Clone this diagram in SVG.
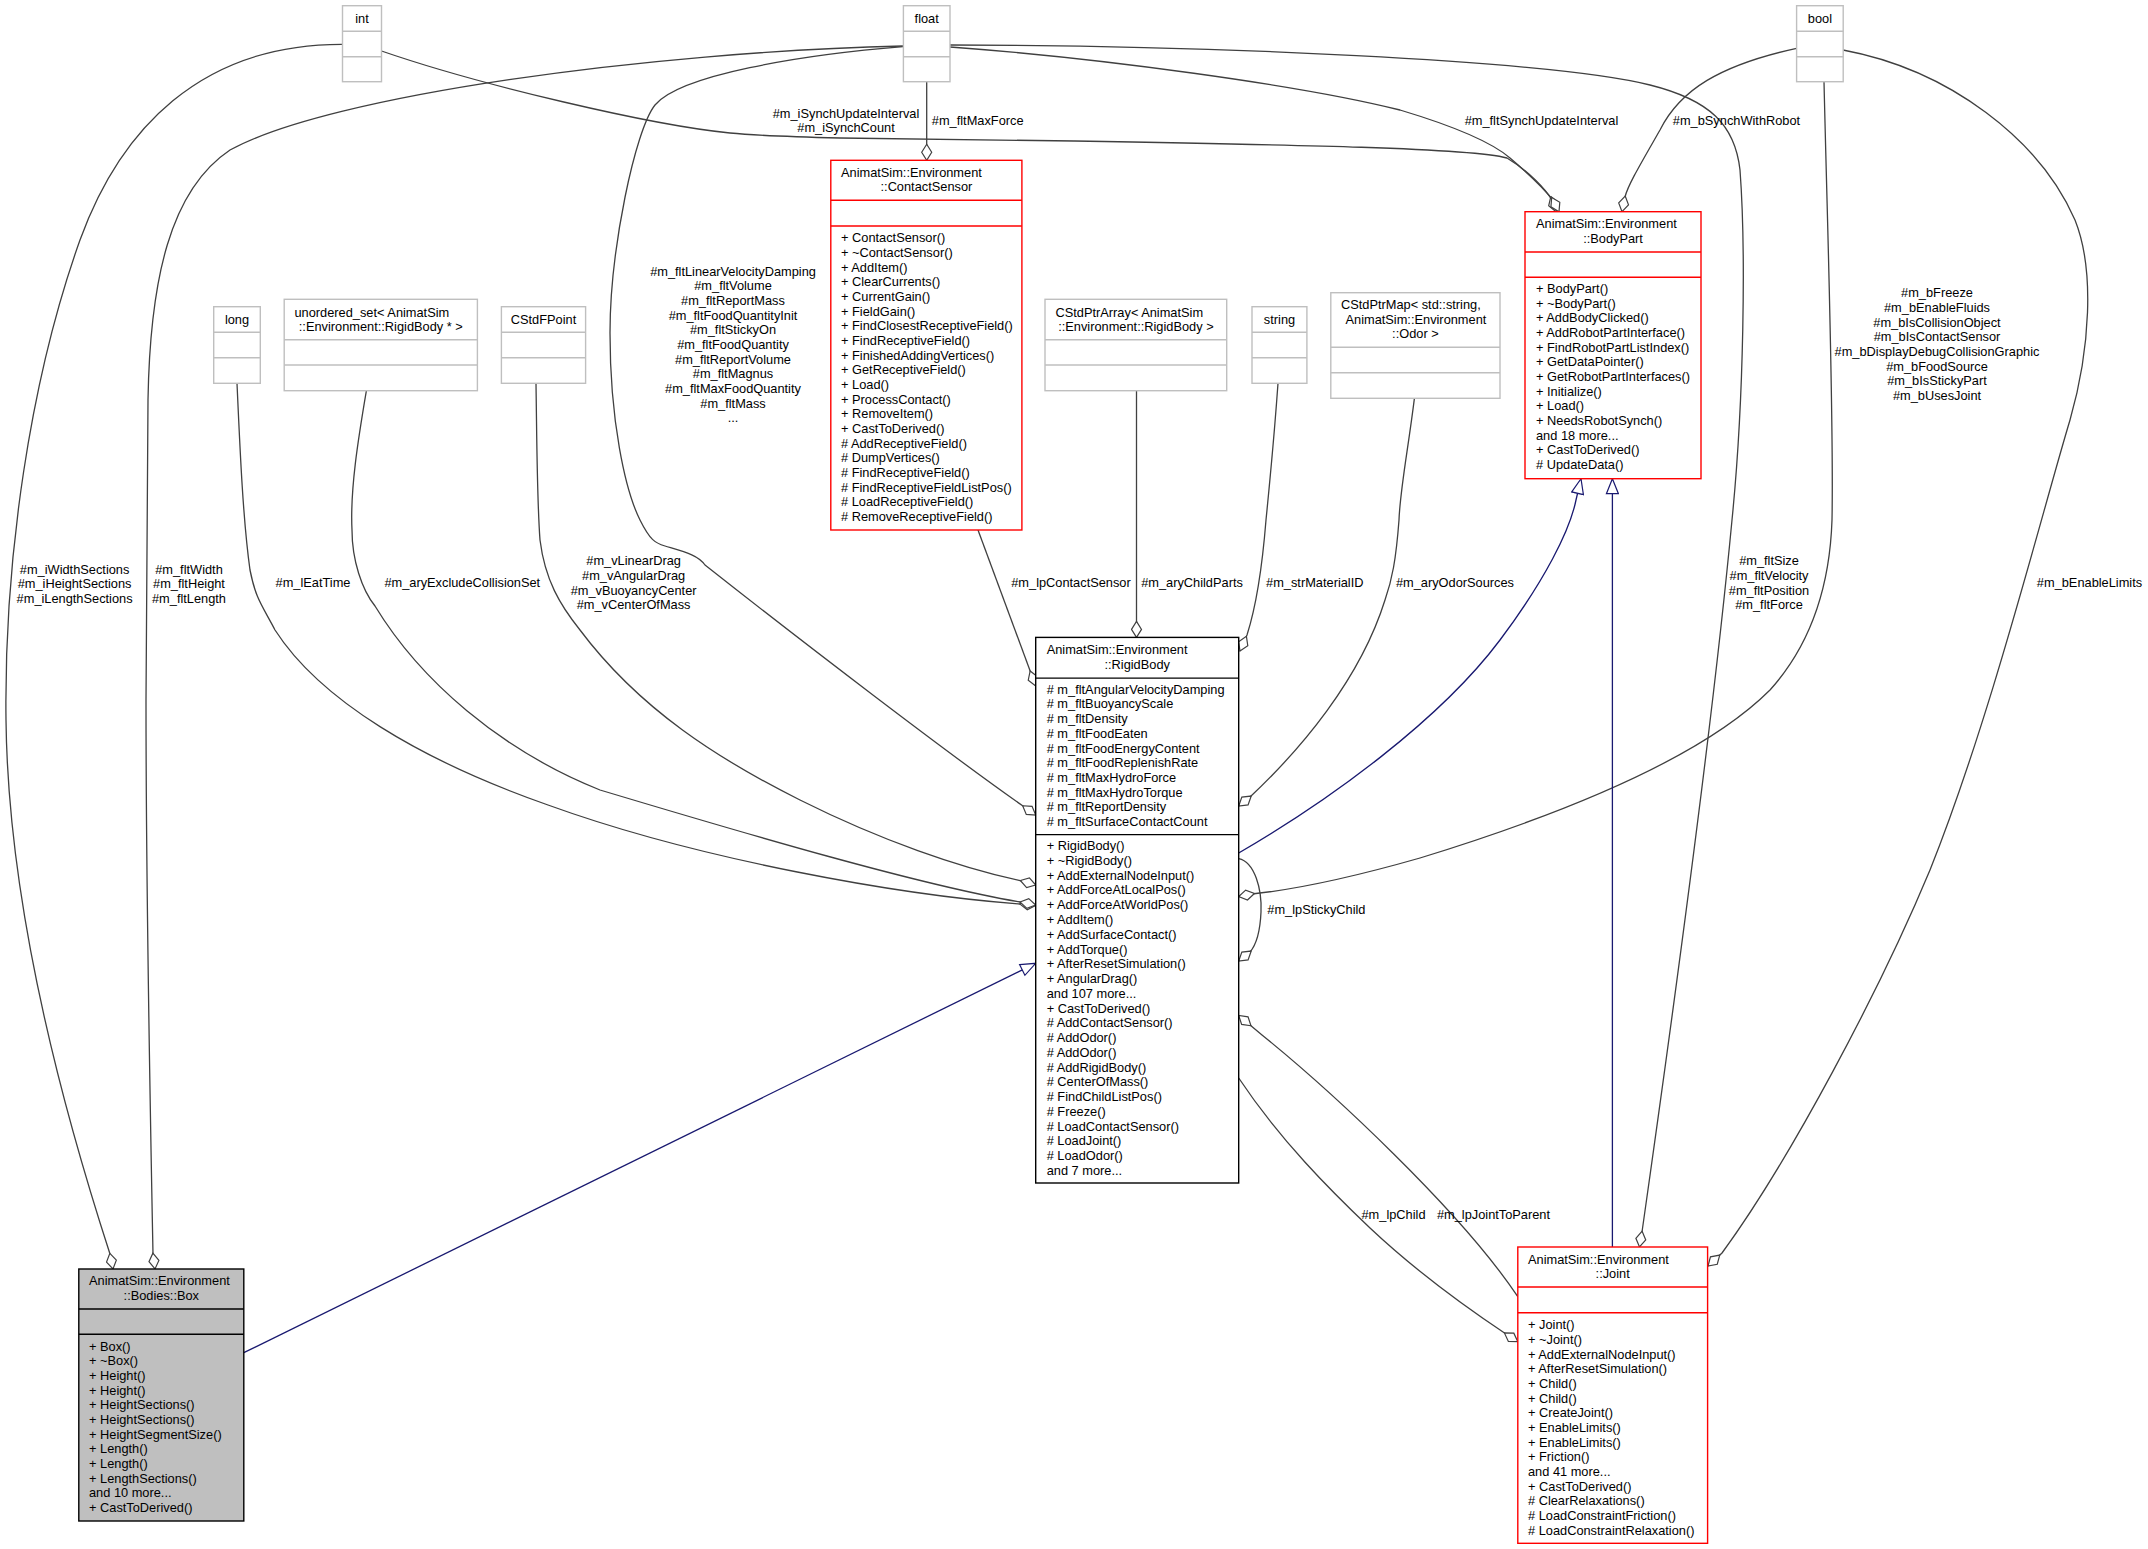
<svg xmlns="http://www.w3.org/2000/svg" width="2148" height="1549" viewBox="0 0 2148 1549">
<style>
text{font-family:"Liberation Sans",Arial,Helvetica,sans-serif;font-size:12.8px;fill:#000}
.c{text-anchor:middle}
.g rect,.g line{stroke:#bfbfbf;stroke-width:1.4;fill:#fff}
.r rect,.r line{stroke:#ff0000;stroke-width:1.4;fill:#fff}
.k rect,.k line{stroke:#000;stroke-width:1.4;fill:#fff}
.k rect.f{fill:#bfbfbf}
.e{fill:none;stroke:#404040;stroke-width:1.3;marker-end:url(#dia)}
.i{fill:none;stroke:#191970;stroke-width:1.3;marker-end:url(#tri)}
</style>
<defs>
<marker id="dia" markerUnits="userSpaceOnUse" viewBox="-1 -1 18 12" markerWidth="18" markerHeight="12" refX="16" refY="5" orient="auto">
<path d="M0,5 L8,0 L16,5 L8,10 Z" fill="#fff" stroke="#404040" stroke-width="1.2"/>
</marker>
<marker id="tri" markerUnits="userSpaceOnUse" viewBox="-1 -1 17 14" markerWidth="17" markerHeight="14" refX="15" refY="6" orient="auto">
<path d="M0,0 L15,6 L0,12 Z" fill="#fff" stroke="#191970" stroke-width="1.2"/>
</marker>
</defs>
<rect x="0" y="0" width="2148" height="1549" fill="#fff"/>

<g id="edges">
<path class="e" d="M342.5,44.3 C200,44 120,130 80,240 C30,380 4,560 6,720 C8,900 60,1100 110,1254 L113,1269"/>
<path class="e" d="M903,46 C650,52 330,95 230,150 C170,190 150,280 148,400 L146,700 C146,900 150,1100 153,1254 L155,1269"/>
<path class="e" d="M381.5,51 C480,85 650,125 730,133 C760,136 800,137 840,138 L1074,141 C1300,145 1470,148 1507,158 C1530,172 1546,190 1552,200 L1556,211.7"/>
<path class="e" d="M950,47 C1100,58 1300,85 1400,110 C1460,128 1495,145 1510,158 C1530,175 1545,190 1553,200 L1559,211.7"/>
<path class="e" d="M950,45 C1200,45 1550,60 1650,85 C1710,100 1735,125 1740,170 C1746,250 1744,400 1732,520 C1715,700 1675,1000 1642,1232 L1639.5,1247"/>
<path class="e" d="M926.7,81.7 L926.7,160.3"/>
<path class="e" d="M903,46.7 C800,55 680,75 655,105 C635,130 610,250 610,333 C610,420 625,490 640,520 C650,540 655,543 665,546 C685,552 698,555 705,565 C800,640 950,755 1023,806 L1035.7,815"/>
<path class="e" d="M237,383.3 C240,450 243,520 250,570 C256,600 262,605 275,630 C320,700 420,760 548,805 C700,860 900,895 1020,904 L1035.7,905.5"/>
<path class="e" d="M366.4,390.7 C358,440 350,490 352,530 C352,560 362,590 375,606 C420,680 500,750 600,790 C750,835 920,885 1020,902 L1035.7,905"/>
<path class="e" d="M536,383.3 C537,450 537,500 540,540 C545,580 560,605 580,630 C640,710 720,760 800,800 C880,840 960,868 1022,881 L1035.7,885"/>
<path class="e" d="M978,530 L1035.7,686"/>
<path class="e" d="M1136.5,390.7 L1136.5,637.4"/>
<path class="e" d="M1278,383.3 C1274,440 1270,480 1266,520 C1262,570 1255,610 1247,635 L1240,651"/>
<path class="e" d="M1414.4,398.3 C1408,450 1400,490 1399,520 C1396,560 1392,580 1385,600 C1360,680 1300,750 1250,797 L1238.7,806"/>
<path class="e" d="M1796.6,48.3 C1720,65 1680,90 1660,130 C1640,165 1628,185 1625,197 L1622,211.7"/>
<path class="e" d="M1824,81.7 C1828,250 1834,420 1832,520 C1830,580 1815,640 1770,690 C1700,760 1560,815 1420,858 C1350,878 1290,890 1252,894 L1238.7,896.5"/>
<path class="e" d="M1843,50 C1950,70 2040,140 2075,220 C2095,270 2090,350 2070,420 C2040,520 1990,720 1930,870 C1880,990 1790,1160 1722,1253 L1708,1266"/>
<path class="e" d="M1238.7,858.6 C1255,862 1262,890 1261,912 C1260,935 1256,945 1250,952 L1238.7,961"/>
<path class="e" d="M1238.7,1078 C1280,1140 1330,1190 1370,1228 C1420,1275 1470,1310 1506,1334 L1517.8,1341.7"/>
<path class="e" d="M1517.8,1296.7 C1460,1210 1330,1090 1262,1035 L1238.7,1015.5"/>
<path class="i" d="M1238.7,853 C1330,800 1440,720 1500,640 C1545,580 1570,530 1576,500 L1581,478.7"/>
<path class="i" d="M1612.4,1247 L1612.4,478.7"/>
<path class="i" d="M243.8,1352.7 L1035.7,963.3"/>
</g>

<g id="edge-labels">
<text class="c" x="74.6" y="573.5">#m_iWidthSections</text>
<text class="c" x="74.6" y="588.2">#m_iHeightSections</text>
<text class="c" x="74.6" y="602.8">#m_iLengthSections</text>
<text class="c" x="189" y="573.5">#m_fltWidth</text>
<text class="c" x="189" y="588.2">#m_fltHeight</text>
<text class="c" x="189" y="602.8">#m_fltLength</text>
<text class="c" x="313" y="587.2">#m_lEatTime</text>
<text class="c" x="462.3" y="587.2">#m_aryExcludeCollisionSet</text>
<text class="c" x="633.6" y="565.2">#m_vLinearDrag</text>
<text class="c" x="633.6" y="579.9">#m_vAngularDrag</text>
<text class="c" x="633.6" y="594.6">#m_vBuoyancyCenter</text>
<text class="c" x="633.6" y="609.3">#m_vCenterOfMass</text>
<text class="c" x="733" y="275.5">#m_fltLinearVelocityDamping</text>
<text class="c" x="733" y="290.2">#m_fltVolume</text>
<text class="c" x="733" y="304.8">#m_fltReportMass</text>
<text class="c" x="733" y="319.5">#m_fltFoodQuantityInit</text>
<text class="c" x="733" y="334.2">#m_fltStickyOn</text>
<text class="c" x="733" y="348.8">#m_fltFoodQuantity</text>
<text class="c" x="733" y="363.5">#m_fltReportVolume</text>
<text class="c" x="733" y="378.2">#m_fltMagnus</text>
<text class="c" x="733" y="392.8">#m_fltMaxFoodQuantity</text>
<text class="c" x="733" y="407.5">#m_fltMass</text>
<text class="c" x="733" y="422.2">...</text>
<text class="c" x="846" y="117.8">#m_iSynchUpdateInterval</text>
<text class="c" x="846" y="132.2">#m_iSynchCount</text>
<text class="c" x="977.7" y="125.2">#m_fltMaxForce</text>
<text class="c" x="1541.5" y="125.2">#m_fltSynchUpdateInterval</text>
<text class="c" x="1736.5" y="125.2">#m_bSynchWithRobot</text>
<text class="c" x="1937" y="297.2">#m_bFreeze</text>
<text class="c" x="1937" y="311.9">#m_bEnableFluids</text>
<text class="c" x="1937" y="326.6">#m_bIsCollisionObject</text>
<text class="c" x="1937" y="341.3">#m_bIsContactSensor</text>
<text class="c" x="1937" y="356">#m_bDisplayDebugCollisionGraphic</text>
<text class="c" x="1937" y="370.7">#m_bFoodSource</text>
<text class="c" x="1937" y="385.4">#m_bIsStickyPart</text>
<text class="c" x="1937" y="400.1">#m_bUsesJoint</text>
<text class="c" x="1071" y="587.2">#m_lpContactSensor</text>
<text class="c" x="1192" y="587.2">#m_aryChildParts</text>
<text class="c" x="1314.8" y="587.2">#m_strMaterialID</text>
<text class="c" x="1455" y="587.2">#m_aryOdorSources</text>
<text class="c" x="1769" y="565.2">#m_fltSize</text>
<text class="c" x="1769" y="579.9">#m_fltVelocity</text>
<text class="c" x="1769" y="594.6">#m_fltPosition</text>
<text class="c" x="1769" y="609.3">#m_fltForce</text>
<text class="c" x="2089.5" y="587">#m_bEnableLimits</text>
<text class="c" x="1316.4" y="913.8">#m_lpStickyChild</text>
<text class="c" x="1393.5" y="1218.8">#m_lpChild</text>
<text class="c" x="1493.5" y="1218.8">#m_lpJointToParent</text>
</g>

<g id="node-int" class="g">
<rect x="342.5" y="5.7" width="39" height="76"/>
<line x1="342.5" y1="31.3" x2="381.5" y2="31.3"/><line x1="342.5" y1="56.7" x2="381.5" y2="56.7"/>
<text class="c" x="362" y="23">int</text>
</g>
<g id="node-float" class="g">
<rect x="903.4" y="5.7" width="46.6" height="76"/>
<line x1="903.4" y1="31.3" x2="950" y2="31.3"/><line x1="903.4" y1="56.7" x2="950" y2="56.7"/>
<text class="c" x="926.7" y="23">float</text>
</g>
<g id="node-bool" class="g">
<rect x="1796.6" y="5.7" width="46.6" height="76"/>
<line x1="1796.6" y1="31.3" x2="1843.2" y2="31.3"/><line x1="1796.6" y1="56.7" x2="1843.2" y2="56.7"/>
<text class="c" x="1819.9" y="23">bool</text>
</g>
<g id="node-long" class="g">
<rect x="213.7" y="306.7" width="46.6" height="76.6"/>
<line x1="213.7" y1="332.3" x2="260.3" y2="332.3"/><line x1="213.7" y1="357.7" x2="260.3" y2="357.7"/>
<text class="c" x="237" y="324">long</text>
</g>
<g id="node-unordered-set" class="g">
<rect x="284.2" y="299.3" width="193.2" height="91.4"/>
<line x1="284.2" y1="339.7" x2="477.4" y2="339.7"/><line x1="284.2" y1="365" x2="477.4" y2="365"/>
<text x="294.5" y="316.5">unordered_set&lt; AnimatSim</text>
<text class="c" x="380.8" y="331.2">::Environment::RigidBody * &gt;</text>
</g>
<g id="node-CStdFPoint" class="g">
<rect x="501.4" y="306.7" width="84.2" height="76.6"/>
<line x1="501.4" y1="332.3" x2="585.6" y2="332.3"/><line x1="501.4" y1="357.7" x2="585.6" y2="357.7"/>
<text class="c" x="543.5" y="324">CStdFPoint</text>
</g>
<g id="node-CStdPtrArray" class="g">
<rect x="1045" y="299.3" width="181.7" height="91.4"/>
<line x1="1045" y1="339.7" x2="1226.7" y2="339.7"/><line x1="1045" y1="365" x2="1226.7" y2="365"/>
<text x="1055.5" y="316.5">CStdPtrArray&lt; AnimatSim</text>
<text class="c" x="1135.9" y="331.2">::Environment::RigidBody &gt;</text>
</g>
<g id="node-string" class="g">
<rect x="1252" y="306.7" width="54.9" height="76.6"/>
<line x1="1252" y1="332.3" x2="1306.9" y2="332.3"/><line x1="1252" y1="357.7" x2="1306.9" y2="357.7"/>
<text class="c" x="1279.5" y="324">string</text>
</g>
<g id="node-CStdPtrMap" class="g">
<rect x="1330.8" y="292.7" width="169.2" height="105.6"/>
<line x1="1330.8" y1="347.3" x2="1500" y2="347.3"/><line x1="1330.8" y1="372.7" x2="1500" y2="372.7"/>
<text x="1341" y="308.8">CStdPtrMap&lt; std::string,</text>
<text x="1345.5" y="323.5">AnimatSim::Environment</text>
<text class="c" x="1415.4" y="337.8">::Odor &gt;</text>
</g>

<g id="node-ContactSensor" class="r">
<rect x="830.8" y="160.3" width="191.1" height="369.7"/>
<line x1="830.8" y1="200.3" x2="1021.9" y2="200.3"/><line x1="830.8" y1="226" x2="1021.9" y2="226"/>
<text x="841" y="177.2">AnimatSim::Environment</text>
<text class="c" x="926.4" y="191.2">::ContactSensor</text>
<text x="841" y="242.2">+ ContactSensor()<tspan x="841" dy="14.67">+ ~ContactSensor()</tspan><tspan x="841" dy="14.67">+ AddItem()</tspan><tspan x="841" dy="14.67">+ ClearCurrents()</tspan><tspan x="841" dy="14.67">+ CurrentGain()</tspan><tspan x="841" dy="14.67">+ FieldGain()</tspan><tspan x="841" dy="14.67">+ FindClosestReceptiveField()</tspan><tspan x="841" dy="14.67">+ FindReceptiveField()</tspan><tspan x="841" dy="14.67">+ FinishedAddingVertices()</tspan><tspan x="841" dy="14.67">+ GetReceptiveField()</tspan><tspan x="841" dy="14.67">+ Load()</tspan><tspan x="841" dy="14.67">+ ProcessContact()</tspan><tspan x="841" dy="14.67">+ RemoveItem()</tspan><tspan x="841" dy="14.67">+ CastToDerived()</tspan><tspan x="841" dy="14.67"># AddReceptiveField()</tspan><tspan x="841" dy="14.67"># DumpVertices()</tspan><tspan x="841" dy="14.67"># FindReceptiveField()</tspan><tspan x="841" dy="14.67"># FindReceptiveFieldListPos()</tspan><tspan x="841" dy="14.67"># LoadReceptiveField()</tspan><tspan x="841" dy="14.67"># RemoveReceptiveField()</tspan></text>
</g>

<g id="node-BodyPart" class="r">
<rect x="1525" y="211.7" width="176" height="267"/>
<line x1="1525" y1="252" x2="1701" y2="252"/><line x1="1525" y1="277.3" x2="1701" y2="277.3"/>
<text x="1536" y="228.2">AnimatSim::Environment</text>
<text class="c" x="1613" y="243">::BodyPart</text>
<text x="1536" y="293.2">+ BodyPart()<tspan x="1536" dy="14.63">+ ~BodyPart()</tspan><tspan x="1536" dy="14.63">+ AddBodyClicked()</tspan><tspan x="1536" dy="14.63">+ AddRobotPartInterface()</tspan><tspan x="1536" dy="14.63">+ FindRobotPartListIndex()</tspan><tspan x="1536" dy="14.63">+ GetDataPointer()</tspan><tspan x="1536" dy="14.63">+ GetRobotPartInterfaces()</tspan><tspan x="1536" dy="14.63">+ Initialize()</tspan><tspan x="1536" dy="14.63">+ Load()</tspan><tspan x="1536" dy="14.63">+ NeedsRobotSynch()</tspan><tspan x="1536" dy="14.63">and 18 more...</tspan><tspan x="1536" dy="14.63">+ CastToDerived()</tspan><tspan x="1536" dy="14.63"># UpdateData()</tspan></text>
</g>

<g id="node-RigidBody" class="k">
<rect x="1035.7" y="637.4" width="203" height="545.6"/>
<line x1="1035.7" y1="678.1" x2="1238.7" y2="678.1"/><line x1="1035.7" y1="834.6" x2="1238.7" y2="834.6"/>
<text x="1046.7" y="654.1">AnimatSim::Environment</text>
<text class="c" x="1137.2" y="668.9">::RigidBody</text>
<text x="1046.7" y="693.7"># m_fltAngularVelocityDamping<tspan x="1046.7" dy="14.7"># m_fltBuoyancyScale</tspan><tspan x="1046.7" dy="14.7"># m_fltDensity</tspan><tspan x="1046.7" dy="14.7"># m_fltFoodEaten</tspan><tspan x="1046.7" dy="14.7"># m_fltFoodEnergyContent</tspan><tspan x="1046.7" dy="14.7"># m_fltFoodReplenishRate</tspan><tspan x="1046.7" dy="14.7"># m_fltMaxHydroForce</tspan><tspan x="1046.7" dy="14.7"># m_fltMaxHydroTorque</tspan><tspan x="1046.7" dy="14.7"># m_fltReportDensity</tspan><tspan x="1046.7" dy="14.7"># m_fltSurfaceContactCount</tspan></text>
<text x="1046.7" y="850.2">+ RigidBody()<tspan x="1046.7" dy="14.76">+ ~RigidBody()</tspan><tspan x="1046.7" dy="14.76">+ AddExternalNodeInput()</tspan><tspan x="1046.7" dy="14.76">+ AddForceAtLocalPos()</tspan><tspan x="1046.7" dy="14.76">+ AddForceAtWorldPos()</tspan><tspan x="1046.7" dy="14.76">+ AddItem()</tspan><tspan x="1046.7" dy="14.76">+ AddSurfaceContact()</tspan><tspan x="1046.7" dy="14.76">+ AddTorque()</tspan><tspan x="1046.7" dy="14.76">+ AfterResetSimulation()</tspan><tspan x="1046.7" dy="14.76">+ AngularDrag()</tspan><tspan x="1046.7" dy="14.76">and 107 more...</tspan><tspan x="1046.7" dy="14.76">+ CastToDerived()</tspan><tspan x="1046.7" dy="14.76"># AddContactSensor()</tspan><tspan x="1046.7" dy="14.76"># AddOdor()</tspan><tspan x="1046.7" dy="14.76"># AddOdor()</tspan><tspan x="1046.7" dy="14.76"># AddRigidBody()</tspan><tspan x="1046.7" dy="14.76"># CenterOfMass()</tspan><tspan x="1046.7" dy="14.76"># FindChildListPos()</tspan><tspan x="1046.7" dy="14.76"># Freeze()</tspan><tspan x="1046.7" dy="14.76"># LoadContactSensor()</tspan><tspan x="1046.7" dy="14.76"># LoadJoint()</tspan><tspan x="1046.7" dy="14.76"># LoadOdor()</tspan><tspan x="1046.7" dy="14.76">and 7 more...</tspan></text>
</g>

<g id="node-Box" class="k">
<rect class="f" x="78.8" y="1269" width="165" height="252"/>
<line x1="78.8" y1="1309" x2="243.8" y2="1309"/><line x1="78.8" y1="1334.3" x2="243.8" y2="1334.3"/>
<text x="89" y="1285.2">AnimatSim::Environment</text>
<text class="c" x="161.3" y="1300.2">::Bodies::Box</text>
<text x="89" y="1350.5">+ Box()<tspan x="89" dy="14.67">+ ~Box()</tspan><tspan x="89" dy="14.67">+ Height()</tspan><tspan x="89" dy="14.67">+ Height()</tspan><tspan x="89" dy="14.67">+ HeightSections()</tspan><tspan x="89" dy="14.67">+ HeightSections()</tspan><tspan x="89" dy="14.67">+ HeightSegmentSize()</tspan><tspan x="89" dy="14.67">+ Length()</tspan><tspan x="89" dy="14.67">+ Length()</tspan><tspan x="89" dy="14.67">+ LengthSections()</tspan><tspan x="89" dy="14.67">and 10 more...</tspan><tspan x="89" dy="14.67">+ CastToDerived()</tspan></text>
</g>

<g id="node-Joint" class="r">
<rect x="1517.8" y="1247" width="189.8" height="296.3"/>
<line x1="1517.8" y1="1287" x2="1707.6" y2="1287"/><line x1="1517.8" y1="1312.7" x2="1707.6" y2="1312.7"/>
<text x="1528" y="1263.5">AnimatSim::Environment</text>
<text class="c" x="1612.7" y="1278.2">::Joint</text>
<text x="1528" y="1329.2">+ Joint()<tspan x="1528" dy="14.67">+ ~Joint()</tspan><tspan x="1528" dy="14.67">+ AddExternalNodeInput()</tspan><tspan x="1528" dy="14.67">+ AfterResetSimulation()</tspan><tspan x="1528" dy="14.67">+ Child()</tspan><tspan x="1528" dy="14.67">+ Child()</tspan><tspan x="1528" dy="14.67">+ CreateJoint()</tspan><tspan x="1528" dy="14.67">+ EnableLimits()</tspan><tspan x="1528" dy="14.67">+ EnableLimits()</tspan><tspan x="1528" dy="14.67">+ Friction()</tspan><tspan x="1528" dy="14.67">and 41 more...</tspan><tspan x="1528" dy="14.67">+ CastToDerived()</tspan><tspan x="1528" dy="14.67"># ClearRelaxations()</tspan><tspan x="1528" dy="14.67"># LoadConstraintFriction()</tspan><tspan x="1528" dy="14.67"># LoadConstraintRelaxation()</tspan></text>
</g>
</svg>
